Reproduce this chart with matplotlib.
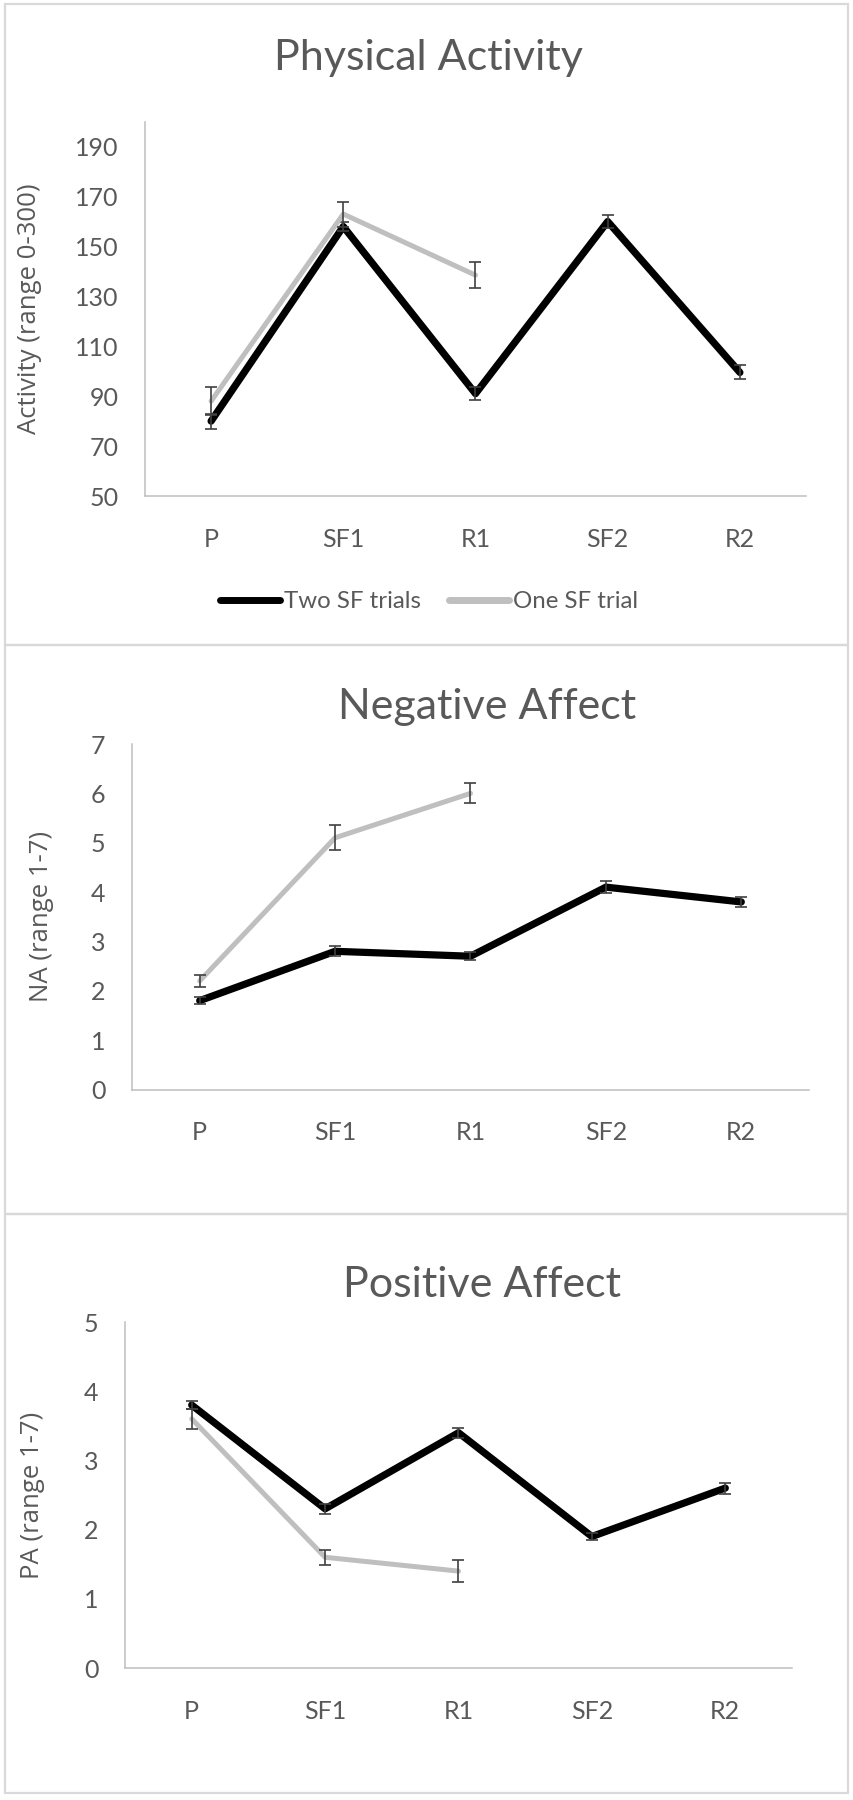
import matplotlib
matplotlib.use("Agg")
import matplotlib.pyplot as plt
from matplotlib.patches import Rectangle
from matplotlib.lines import Line2D

plt.rcParams['font.family'] = ['Lato', 'DejaVu Sans']

categories = ['P', 'SF1', 'R1', 'SF2', 'R2']
series_names = ['Two SF trials', 'One SF trial']

pa_two = [80, 158, 91, 160, 99.5]
pa_two_err = [3, 2, 2.5, 2.5, 2.8]
pa_one = [88, 163, 138.5]
pa_one_err = [5.5, 5, 5.3]

na_two = [1.8, 2.8, 2.7, 4.1, 3.8]
na_two_err = [0.07, 0.1, 0.08, 0.12, 0.1]
na_one = [2.2, 5.1, 6.0]
na_one_err = [0.12, 0.25, 0.2]

pos_two = [3.8, 2.3, 3.4, 1.9, 2.6]
pos_two_err = [0.06, 0.07, 0.07, 0.05, 0.08]
pos_one = [3.6, 1.6, 1.4]
pos_one_err = [0.15, 0.11, 0.16]

titles = ['Physical Activity', 'Negative Affect', 'Positive Affect']
ylabels = ['Activity (range 0-300)', 'NA (range 1-7)', 'PA (range 1-7)']
yticks_list = [list(range(50, 191, 20)), list(range(0, 8)), list(range(0, 6))]
ylims = [(50, 200), (0, 7), (0, 5)]

W, H = 854, 1800
fig = plt.figure(figsize=(W / 100, H / 100), dpi=100)

TEXT = '#595959'
AXC = '#BFBFBF'
ERR = '#404040'
BLACK = '#000000'
GRAY = '#BFBFBF'

# panel frames (pixel coords, top origin)
frames = [(5, 4, 848, 645), (5, 645, 848, 1214), (5, 1214, 848, 1793)]
for (x0, y0, x1, y1) in frames:
    fig.patches.append(Rectangle((x0 / W, 1 - y1 / H), (x1 - x0) / W, (y1 - y0) / H,
                                 transform=fig.transFigure, fill=False,
                                 edgecolor='#D9D9D9', linewidth=1.6))

# axes boxes: left, right, top, bottom (px)
boxes = [(145, 806, 121.7, 496), (132, 809, 744, 1089.5), (125, 792, 1322, 1668)]
title_pos = [(428, 58), (487, 707), (482, 1285)]
ylabel_x = [42.5, 54, 45]

data = [
    (pa_two, pa_two_err, pa_one, pa_one_err),
    (na_two, na_two_err, na_one, na_one_err),
    (pos_two, pos_two_err, pos_one, pos_one_err),
]

x_all = list(range(len(categories)))

for i in range(3):
    l, r, t, b = boxes[i]
    ax = fig.add_axes([l / W, 1 - b / H, (r - l) / W, (b - t) / H])
    two, two_err, one, one_err = data[i]
    x_one = x_all[:len(one)]

    ax.plot(x_all, two, color=BLACK, lw=5.2, solid_capstyle='round',
            solid_joinstyle='round', zorder=3, label=series_names[0])
    ax.errorbar(x_all, two, yerr=two_err, fmt='none', ecolor=ERR, elinewidth=1.2,
                capsize=4.5, capthick=1.2, zorder=4)
    ax.plot(x_one, one, color=GRAY, lw=3.6, solid_capstyle='round',
            solid_joinstyle='round', zorder=5, label=series_names[1])
    ax.errorbar(x_one, one, yerr=one_err, fmt='none', ecolor=ERR, elinewidth=1.2,
                capsize=4.5, capthick=1.2, zorder=6)

    ax.set_xlim(-0.5, len(categories) - 0.5)
    ax.set_ylim(*ylims[i])
    ax.set_yticks(yticks_list[i])
    ax.set_xticks(x_all)
    ax.set_xticklabels(categories)
    for s in ['top', 'right']:
        ax.spines[s].set_visible(False)
    for s in ['left', 'bottom']:
        ax.spines[s].set_color(AXC)
        ax.spines[s].set_linewidth(1.1)
    ax.tick_params(axis='both', length=0, colors=TEXT, labelsize=18)
    ax.tick_params(axis='x', pad=23)
    ax.tick_params(axis='y', pad=19)
    ax.set_ylabel(ylabels[i], fontsize=18.5, color=TEXT,
                  fontfamily=['Open Sans', 'DejaVu Sans'])
    ax.yaxis.set_label_coords((ylabel_x[i] - l) / (r - l), 0.5)

    tx, ty = title_pos[i]
    fig.text(tx / W, 1 - ty / H, titles[i], fontsize=31, color=TEXT,
             ha='center', va='center')

    if i == 0:
        handles = [Line2D([0], [0], color=BLACK, lw=5.0, solid_capstyle='round'),
                   Line2D([0], [0], color=GRAY, lw=5.0, solid_capstyle='round')]
        leg = fig.legend(handles, series_names, loc='center',
                         bbox_to_anchor=(429 / W, 1 - 602 / H), ncol=2,
                         frameon=False, fontsize=17.3, handlelength=2.5,
                         handletextpad=0.15, columnspacing=1.2,
                         borderaxespad=0)
        for txt in leg.get_texts():
            txt.set_color(TEXT)

fig.savefig('out.png', dpi=100, facecolor='white')
